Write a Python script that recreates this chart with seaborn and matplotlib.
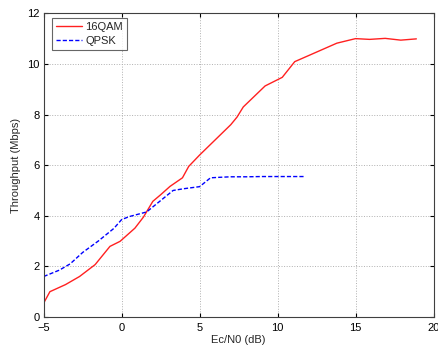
import matplotlib
matplotlib.use("Agg")
import matplotlib.pyplot as plt
import seaborn as sns
import pandas as pd

qam_x = [-5, -4.6, -3.6, -2.7, -1.7, -0.75, -0.1, 0.85, 1.4, 2.0, 2.5, 3.1, 3.9, 4.3, 5.0, 6.0, 7.0, 7.4, 7.8, 9.2, 10.3, 11.1, 12.1, 13.8, 15.0, 15.9, 16.9, 17.9, 18.9]
qam_y = [0.55, 1.0, 1.28, 1.6, 2.07, 2.79, 2.99, 3.51, 3.95, 4.57, 4.83, 5.16, 5.5, 5.95, 6.4, 7.0, 7.6, 7.9, 8.3, 9.13, 9.47, 10.09, 10.36, 10.82, 11.0, 10.97, 11.01, 10.94, 10.99]

qpsk_x = [-5, -4.0, -3.3, -2.5, -1.5, -0.5, 0.0, 0.5, 1.6, 2.3, 3.3, 4.0, 5.0, 5.7, 6.3, 7.0, 8.0, 9.0, 10.0, 11.0, 11.8]
qpsk_y = [1.6, 1.85, 2.1, 2.55, 3.0, 3.5, 3.85, 3.97, 4.15, 4.5, 5.0, 5.07, 5.15, 5.5, 5.52, 5.54, 5.54, 5.55, 5.55, 5.55, 5.55]

series_names = ["16QAM", "QPSK"]
x_ticks = [-5, 0, 5, 10, 15, 20]
y_ticks = [0, 2, 4, 6, 8, 10, 12]

df = pd.concat([
    pd.DataFrame({"x": qam_x, "y": qam_y, "s": series_names[0]}),
    pd.DataFrame({"x": qpsk_x, "y": qpsk_y, "s": series_names[1]}),
])

sns.set_style("white")
plt.rcParams["font.family"] = ["Liberation Sans", "DejaVu Sans"]

fig = plt.figure(figsize=(4.39, 3.45), dpi=100)
ax = fig.add_axes([0.0995, 0.0812, 0.888, 0.8802])

sns.lineplot(data=df, x="x", y="y", hue="s", style="s",
             palette={"16QAM": "#ff2020", "QPSK": "#0000ff"},
             dashes={"16QAM": "", "QPSK": (3, 1.5)},
             sort=False, estimator=None, linewidth=1.0, ax=ax)

ax.set_xlim(-5, 20)
ax.set_ylim(0, 12)
ax.set_xticks(x_ticks)
ax.set_yticks(y_ticks)
ax.tick_params(direction="in", length=3, labelsize=8, colors="black", top=True, right=True,
               bottom=True, left=True, labeltop=False, labelright=False)
ax.tick_params(axis="x", pad=4)
ax.tick_params(axis="y", pad=3)
ax.grid(True, linestyle=":", color="#b0b0b0", linewidth=0.7)
for sp in ax.spines.values():
    sp.set_color("#404040")
    sp.set_linewidth(0.8)
ax.set_xlabel("Ec/N0 (dB)", fontsize=8, labelpad=2)
ax.set_ylabel("Throughput (Mbps)", fontsize=8, labelpad=4)

leg = ax.legend(loc="upper left", fontsize=8, frameon=True, fancybox=False,
                handlelength=2.3, borderpad=0.4, labelspacing=0.3, handletextpad=0.3,
                borderaxespad=0, bbox_to_anchor=(0.021, 0.985))
leg.get_frame().set_edgecolor("#404040")
leg.get_frame().set_linewidth(0.8)
leg.set_title(None)

fig.savefig("out.png", dpi=100)
